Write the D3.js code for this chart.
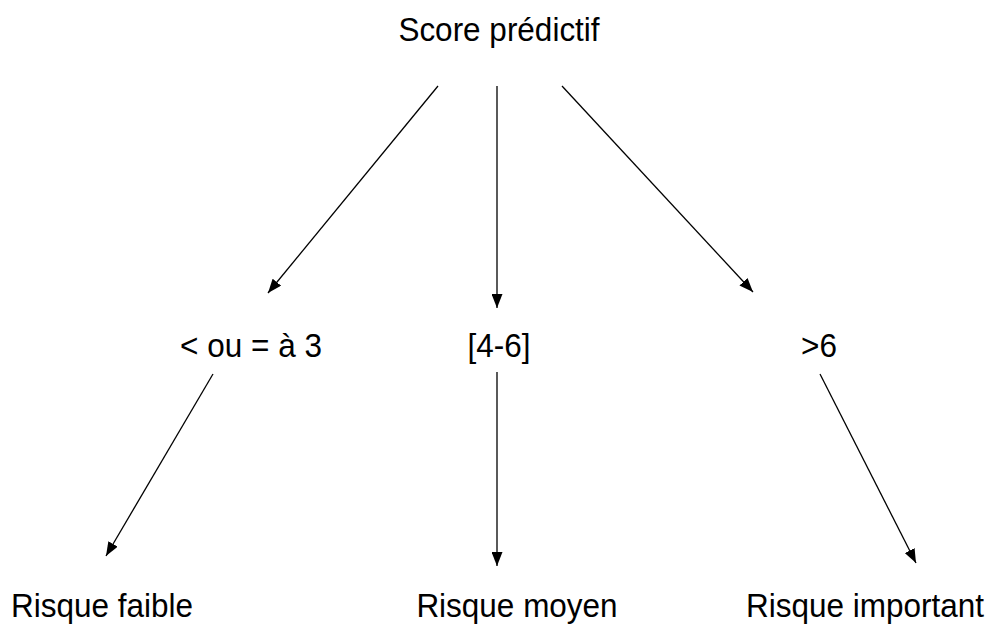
<!DOCTYPE html>
<html>
<head>
<meta charset="utf-8">
<script src="https://cdn.jsdelivr.net/npm/d3@7"></script>
<style>
  body { margin: 0; background: #fff; }
  text { font-family: "Liberation Sans", Arial, sans-serif; fill: #000; }
</style>
</head>
<body>
<svg id="chart"></svg>
<script>
// diagram content
const rootLabel = 'Score prédictif';
const scoreLabels = ['< ou = à 3', '[4-6]', '>6'];
const riskLabels = ['Risque faible', 'Risque moyen', 'Risque important'];

const width = 990, height = 625;

// layout (pixel positions of each row and column)
const rowY = d3.scaleOrdinal().domain(['root', 'score', 'risk']).range([41, 357, 617]);
const scoreX = d3.scaleOrdinal().domain(scoreLabels).range([251, 499, 819]);
const riskX = d3.scaleOrdinal().domain(riskLabels).range([102, 517, 865]);
const rootX = 499;
const stretchY = 1.08; // glyphs in the source look a bit tall

// arrow end points per branch
const topArrows = [
  { x1: 438, y1: 86, x2: 268, y2: 293 },
  { x1: 497, y1: 86, x2: 497, y2: 308 },
  { x1: 562, y1: 86, x2: 753, y2: 292 }
];
const lowArrows = [
  { x1: 213, y1: 374, x2: 106, y2: 556 },
  { x1: 497, y1: 372, x2: 497, y2: 566 },
  { x1: 820, y1: 374, x2: 916, y2: 563 }
];

const svg = d3.select('#chart').attr('width', width).attr('height', height);

svg.append('defs').append('marker')
    .attr('id', 'head')
    .attr('viewBox', '0 0 14 11')
    .attr('refX', 14)
    .attr('refY', 5.5)
    .attr('markerWidth', 14)
    .attr('markerHeight', 11)
    .attr('markerUnits', 'userSpaceOnUse')
    .attr('orient', 'auto')
  .append('path')
    .attr('d', 'M0,0L14,5.5L0,11Z')
    .attr('fill', '#000');

svg.selectAll('line.arrow')
  .data(topArrows.concat(lowArrows))
  .join('line')
    .attr('class', 'arrow')
    .attr('x1', d => d.x1).attr('y1', d => d.y1)
    .attr('x2', d => d.x2).attr('y2', d => d.y2)
    .attr('stroke', '#000')
    .attr('stroke-width', 1.3)
    .attr('marker-end', 'url(#head)');

function label(sel, x, y) {
  sel.attr('transform', `translate(${x},${y}) scale(1,${stretchY})`)
    .attr('text-anchor', 'middle')
    .style('font-size', '31.5px');
}

svg.append('text')
    .call(label, rootX, rowY('root'))
    .text(rootLabel);

scoreLabels.forEach(d => {
  svg.append('text')
      .attr('class', 'score')
      .call(label, scoreX(d), rowY('score'))
      .text(d);
});

riskLabels.forEach(d => {
  svg.append('text')
      .attr('class', 'risk')
      .call(label, riskX(d), rowY('risk'))
      .text(d);
});
</script>
</body>
</html>
